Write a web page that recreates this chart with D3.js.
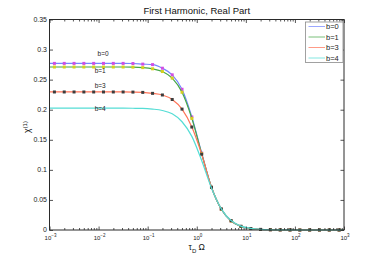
<!DOCTYPE html>
<html><head><meta charset="utf-8">
<script src="https://cdn.jsdelivr.net/npm/d3@7"></script>
<style>
html,body{margin:0;padding:0;background:#fff;}
svg{display:block;font-family:"Liberation Sans",Arial,sans-serif;}
</style></head>
<body>
<svg id="c" width="381" height="259"></svg>
<script>
// ---- data ----
const freqExp = [-3,-2.9,-2.7,-2.5,-2.3,-2.1,-1.9,-1.7,-1.5,-1.3,-1.1,-0.9,-0.7,-0.5,-0.3,-0.1,0.1,0.3,0.5,0.7,0.9,1.1,1.3,1.5,1.7,1.9,2.1,2.3,2.5,2.7,2.9,3];
const seriesNames = ["b=0","b=1","b=3","b=4"];
const chiB0 = [0.277,0.277,0.277,0.277,0.277,0.277,0.277,0.277,0.277,0.2768,0.2758,0.275,0.269,0.258,0.234,0.188,0.128,0.071,0.0345,0.015,0.0059,0.0024,0.0009,0.0004,0.00015,0.00006,0,0,0,0,0,0];
const chiB1 = [0.271,0.271,0.271,0.271,0.271,0.271,0.271,0.271,0.271,0.2708,0.270,0.268,0.2635,0.2525,0.229,0.1855,0.127,0.071,0.0345,0.015,0.0059,0.0024,0.0009,0.0004,0.00015,0.00006,0,0,0,0,0,0];
const chiB3 = [0.2295,0.2295,0.2295,0.2295,0.2295,0.2295,0.2295,0.2295,0.2295,0.2293,0.2288,0.2272,0.2245,0.217,0.201,0.1712,0.126,0.071,0.035,0.0155,0.0062,0.0025,0.001,0.0004,0.00016,0.00006,0,0,0,0,0,0];
const chiB4 = [0.2025,0.2025,0.2025,0.2025,0.2025,0.2025,0.2025,0.2025,0.2025,0.2024,0.2022,0.201,0.1987,0.1932,0.18,0.1557,0.1155,0.0697,0.0352,0.0157,0.0065,0.0027,0.0011,0.0004,0.00017,0.00007,0,0,0,0,0,0];
const xTickExps = [-3,-2,-1,0,1,2,3];
const yTicks = [0,0.05,0.1,0.15,0.2,0.25,0.3,0.35];
const yTickLabels = ["0","0.05","0.1","0.15","0.2","0.25","0.3","0.35"];
const annotLabels = ["b=0","b=1","b=3","b=4"];
const annotExp = [-2.02,-2.08,-2.08,-2.08];
const annotVal = [0.293,0.2655,0.2405,0.2022];

// ---- styles ----
const lineColors = ["#7386ff","#45a845","#ff7458","#55ddd5"];
const markerColors = ["#d24ee2","#d6d01e","#3c3c3c",null];

const svg = d3.select("#c");
const L=49.5, R=344, T=19.5, B=230;
const x = d3.scaleLog().domain([1e-3,1e3]).range([L,R]);
const y = d3.scaleLinear().domain([0,0.35]).range([B,T]);

const omega = freqExp.map(e=>Math.pow(10,e));
const seriesVals = [chiB0,chiB1,chiB3,chiB4];

svg.append("rect").attr("x",L).attr("y",T).attr("width",R-L).attr("height",B-T).attr("fill","#fff");

const clip = svg.append("defs").append("clipPath").attr("id","pc");
clip.append("rect").attr("x",L-3).attr("y",T-3).attr("width",R-L+6).attr("height",B-T+6);

const plot = svg.append("g").attr("clip-path","url(#pc)");
const lineGen = d3.line().x(d=>x(d[0])).y(d=>y(d[1])).curve(d3.curveMonotoneX);

seriesVals.forEach((vals,i)=>{
  const pts = omega.map((o,j)=>[o,vals[j]]);
  plot.append("path").datum(pts).attr("d",lineGen)
    .attr("fill","none").attr("stroke",lineColors[i]).attr("stroke-width",1.2);
  if(markerColors[i]){
    const mk = pts.slice(1,pts.length-1);
    plot.selectAll(null).data(mk).enter().append("rect")
      .attr("x",d=>x(d[0])-1.5).attr("y",d=>y(d[1])-1.5)
      .attr("width",3).attr("height",3).attr("fill",markerColors[i]);
  }
});

// annotations
annotLabels.forEach((t,i)=>{
  svg.append("text").attr("x",x(Math.pow(10,annotExp[i]))).attr("y",y(annotVal[i]))
    .attr("dy","0.35em").attr("font-size",6.5).attr("fill","#222").text(t);
});

// axes
const axColor="#2a2a2a";
const minorVals=[];
xTickExps.slice(0,-1).forEach(e=>{for(let m=2;m<=9;m++)minorVals.push(m*Math.pow(10,e));});

function styleAxis(g){
  g.select(".domain").remove();
  g.selectAll("line").attr("stroke",axColor).attr("stroke-width",0.8);
}
svg.append("g").attr("transform",`translate(0,${B})`)
  .call(d3.axisBottom(x).tickValues(minorVals).tickSize(-2).tickFormat(()=>"")).call(styleAxis);
svg.append("g").attr("transform",`translate(0,${T})`)
  .call(d3.axisTop(x).tickValues(minorVals).tickSize(-2).tickFormat(()=>"")).call(styleAxis);
svg.append("g").attr("transform",`translate(0,${B})`)
  .call(d3.axisBottom(x).tickValues(xTickExps.map(e=>Math.pow(10,e))).tickSize(-3.5).tickFormat(()=>"")).call(styleAxis);
svg.append("g").attr("transform",`translate(0,${T})`)
  .call(d3.axisTop(x).tickValues(xTickExps.map(e=>Math.pow(10,e))).tickSize(-3.5).tickFormat(()=>"")).call(styleAxis);
svg.append("g").attr("transform",`translate(${L},0)`)
  .call(d3.axisLeft(y).tickValues(yTicks).tickSize(-3.5).tickFormat(()=>"")).call(styleAxis);
svg.append("g").attr("transform",`translate(${R},0)`)
  .call(d3.axisRight(y).tickValues(yTicks).tickSize(-3.5).tickFormat(()=>"")).call(styleAxis);

// box
svg.append("rect").attr("x",L).attr("y",T).attr("width",R-L).attr("height",B-T)
  .attr("fill","none").attr("stroke",axColor).attr("stroke-width",1);

// x tick labels
xTickExps.forEach(e=>{
  const t = svg.append("text").attr("x",x(Math.pow(10,e))+1).attr("y",B+9.5)
    .attr("text-anchor","middle").attr("font-size",6).attr("fill","#222");
  t.append("tspan").text("10");
  t.append("tspan").attr("dy",-2.5).attr("font-size",4.5).text(String(e).replace("-","\u2212"));
});
// y tick labels
yTicks.forEach((v,i)=>{
  svg.append("text").attr("x",L-2.5).attr("y",y(v)).attr("dy","0.35em")
    .attr("text-anchor","end").attr("font-size",7).attr("fill","#222").text(yTickLabels[i]);
});

// title
svg.append("text").attr("x",(L+R)/2).attr("y",13.5).attr("text-anchor","middle")
  .attr("font-size",9.5).attr("fill","#111").text("First Harmonic, Real Part");

// x label
const xl = svg.append("text").attr("x",(L+R)/2).attr("y",250).attr("text-anchor","middle")
  .attr("font-size",8.5).attr("fill","#111");
xl.append("tspan").text("\u03C4");
xl.append("tspan").attr("dy",2.5).attr("font-size",6).text("D");
xl.append("tspan").attr("dy",-2.5).text(" \u03A9");

// y label
const yl = svg.append("text").attr("transform",`translate(30,127) rotate(-90)`)
  .attr("text-anchor","middle").attr("font-size",8.5).attr("fill","#111");
yl.append("tspan").text("\u03C7");
yl.append("tspan").attr("dy",-3).attr("font-size",6).text("(1)");

// legend
const lg = svg.append("g");
lg.append("rect").attr("x",305.5).attr("y",22).attr("width",37.5).attr("height",40.5)
  .attr("fill","#fff").attr("stroke","#8a8a8a").attr("stroke-width",0.8);
seriesNames.forEach((n,i)=>{
  const yy = 26.5 + i*10.5;
  lg.append("line").attr("x1",308.5).attr("x2",325).attr("y1",yy).attr("y2",yy)
    .attr("stroke",lineColors[i]).attr("stroke-width",0.9).attr("stroke-opacity",0.8);
  lg.append("text").attr("x",326).attr("y",yy).attr("dy","0.35em")
    .attr("font-size",7.5).attr("fill","#222").text(n);
});
</script>
</body></html>
